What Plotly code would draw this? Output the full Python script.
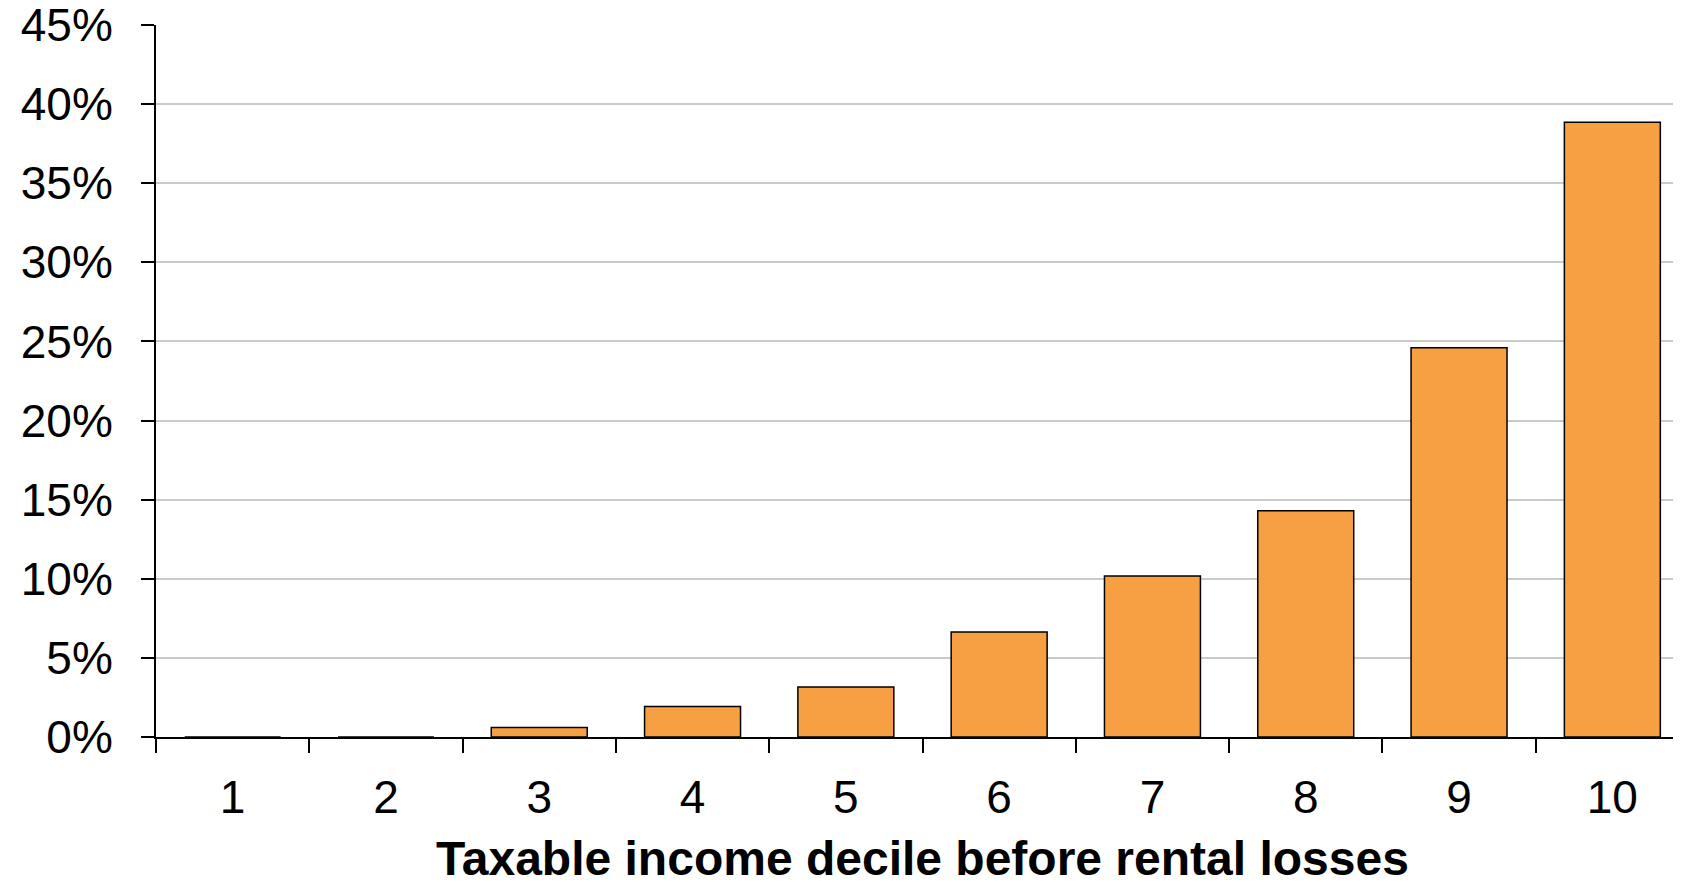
import plotly.graph_objects as go

deciles = ["1", "2", "3", "4", "5", "6", "7", "8", "9", "10"]
shares = [0.0, 0.0, 0.6, 1.93, 3.16, 6.64, 10.18, 14.3, 24.6, 38.86]
y_ticks = [0, 5, 10, 15, 20, 25, 30, 35, 40, 45]
y_tick_labels = ["0%", "5%", "10%", "15%", "20%", "25%", "30%", "35%", "40%", "45%"]
x_title = "Taxable income decile before rental losses"

FONT = "Liberation Sans, Arial, Helvetica, sans-serif"

fig = go.Figure(
    go.Bar(
        x=deciles,
        y=shares,
        width=0.626,
        marker=dict(color="#F79F43", line=dict(color="#000000", width=1.5)),
        hoverinfo="x+y",
    )
)

fig.update_layout(
    width=1681,
    height=882,
    margin=dict(l=148, r=0, t=17, b=153),
    paper_bgcolor="white",
    plot_bgcolor="white",
    showlegend=False,
    font=dict(family=FONT, color="black", size=46),
    annotations=[
        dict(
            text="<b>" + x_title + "</b>",
            xref="paper", yref="paper",
            x=0.5, y=-0.1712,
            xanchor="center", yanchor="middle",
            showarrow=False,
            font=dict(family=FONT, size=48, color="black"),
        )
    ],
)

fig.update_xaxes(
    type="category",
    range=[-0.5, 9.5],
    tickson="boundaries",
    ticks="outside",
    ticklen=14,
    tickwidth=2,
    tickcolor="black",
    showline=True,
    linecolor="black",
    linewidth=2,
    showgrid=False,
    zeroline=False,
    automargin=False,
    tickfont=dict(family=FONT, size=46, color="black"),
    ticklabelstandoff=19,
)

fig.update_yaxes(
    range=[0, 45],
    tickmode="array",
    tickvals=y_ticks,
    ticktext=y_tick_labels,
    ticks="outside",
    ticklen=13,
    tickwidth=2,
    tickcolor="black",
    showline=True,
    linecolor="black",
    linewidth=2,
    showgrid=True,
    gridcolor="#CACACA",
    gridwidth=1.5,
    zeroline=False,
    automargin=False,
    ticklabeloverflow="allow",
    tickfont=dict(family=FONT, size=46, color="black"),
    ticklabelstandoff=19,
)

fig.write_html("out.html")
